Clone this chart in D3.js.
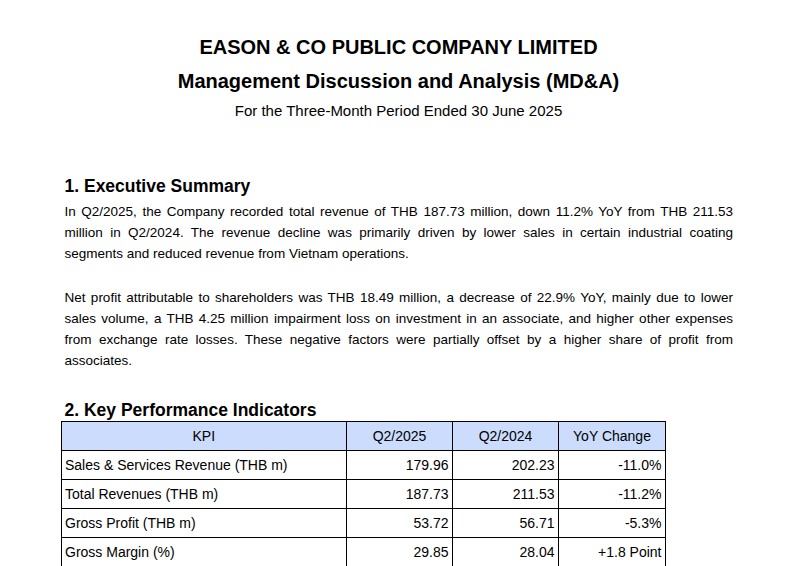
<!DOCTYPE html>
<html>
<head>
<meta charset="utf-8">
<script src="https://cdn.jsdelivr.net/npm/d3@7"></script>
<style>
	body { margin: 0; background: #fff; }
	text { font-family: "Liberation Sans", Arial, sans-serif; fill: #000; }
</style>
</head>
<body>
<div id="page"></div>
<script>
var titleLines = ["EASON & CO PUBLIC COMPANY LIMITED", "Management Discussion and Analysis (MD&A)"];
var subtitle = "For the Three-Month Period Ended 30 June 2025";
var headings = ["1. Executive Summary", "2. Key Performance Indicators"];

// lines broken as in the source page
var summaryPara1 = [
	"In Q2/2025, the Company recorded total revenue of THB 187.73 million, down 11.2% YoY from THB 211.53",
	"million in Q2/2024. The revenue decline was primarily driven by lower sales in certain industrial coating",
	"segments and reduced revenue from Vietnam operations."
];
var summaryPara2 = [
	"Net profit attributable to shareholders was THB 18.49 million, a decrease of 22.9% YoY, mainly due to lower",
	"sales volume, a THB 4.25 million impairment loss on investment in an associate, and higher other expenses",
	"from exchange rate losses. These negative factors were partially offset by a higher share of profit from",
	"associates."
];

var kpiHeaders = ["KPI", "Q2/2025", "Q2/2024", "YoY Change"];
var kpiNames = ["Sales & Services Revenue (THB m)", "Total Revenues (THB m)", "Gross Profit (THB m)", "Gross Margin (%)"];
var q2_2025 = [179.96, 187.73, 53.72, 29.85];
var q2_2024 = [202.23, 211.53, 56.71, 28.04];
var yoyChange = ["-11.0%", "-11.2%", "-5.3%", "+1.8 Point"];

////////////////////////////////////////////////////////////
////////////////////// Create SVG //////////////////////////
////////////////////////////////////////////////////////////

var width = 801, height = 566,
	left = 64.5, right = 733;

var svg = d3.select("#page").append("svg")
	.attr("width", width)
	.attr("height", height);

svg.append("rect").attr("width", width).attr("height", height).attr("fill", "#fff");

////////////////////////////////////////////////////////////
////////////////////// Titles //////////////////////////////
////////////////////////////////////////////////////////////

svg.selectAll("text.title")
	.data(titleLines)
	.enter().append("text")
	.attr("class", "title")
	.attr("x", 398.5)
	.attr("y", function(d, i) { return 54 + i * 34.3; })
	.attr("text-anchor", "middle")
	.style("font-size", "20px")
	.style("font-weight", "bold")
	.text(function(d) { return d; });

svg.append("text")
	.attr("x", 398.5)
	.attr("y", 116)
	.attr("text-anchor", "middle")
	.style("font-size", "15px")
	.text(subtitle);

svg.selectAll("text.heading")
	.data(headings)
	.enter().append("text")
	.attr("class", "heading")
	.attr("x", left)
	.attr("y", function(d, i) { return i ? 416 : 192; })
	.style("font-size", "17.5px")
	.style("font-weight", "bold")
	.text(function(d) { return d; });

////////////////////////////////////////////////////////////
////////////////// Justified paragraphs ////////////////////
////////////////////////////////////////////////////////////

function drawParagraph(lines, y0) {
	var t = svg.selectAll(null)
		.data(lines)
		.enter().append("text")
		.attr("x", left)
		.attr("y", function(d, i) { return y0 + i * 21; })
		.style("font-size", "13.5px")
		.text(function(d) { return d; });

	//stretch the word gaps on every line but the last
	t.each(function(d, i) {
		if (i === lines.length - 1) return;
		var gaps = d.split(" ").length - 1,
			extra = (right - left) - this.getComputedTextLength();
		d3.select(this).style("word-spacing", (extra / gaps) + "px");
	});
}

drawParagraph(summaryPara1, 215.5);
drawParagraph(summaryPara2, 301.5);

////////////////////////////////////////////////////////////
////////////////////// KPI table ///////////////////////////
////////////////////////////////////////////////////////////

var colEdges = [61, 346.5, 452.5, 558.5, 665.5];
var pad = 4;

var y = d3.scaleBand()
	.domain(d3.range(kpiNames.length + 1))
	.range([421, 566]);

var fmt = d3.format(".2f");

var rows = kpiNames.map(function(name, i) {
	return [name, fmt(q2_2025[i]), fmt(q2_2024[i]), yoyChange[i]];
});

var table = svg.append("g").attr("class", "kpi");

table.append("rect")
	.attr("x", colEdges[0])
	.attr("y", y(0))
	.attr("width", colEdges[4] - colEdges[0])
	.attr("height", y.bandwidth())
	.attr("fill", "#cbdcfd");

table.selectAll("text.head")
	.data(kpiHeaders)
	.enter().append("text")
	.attr("class", "head")
	.attr("x", function(d, i) { return (colEdges[i] + colEdges[i + 1]) / 2; })
	.attr("y", y(0) + y.bandwidth() / 2 + 5)
	.attr("text-anchor", "middle")
	.style("font-size", "14px")
	.text(function(d) { return d; });

var rowG = table.selectAll("g.row")
	.data(rows)
	.enter().append("g")
	.attr("class", "row")
	.attr("transform", function(d, i) { return "translate(0," + y(i + 1) + ")"; });

rowG.selectAll("text")
	.data(function(d) { return d; })
	.enter().append("text")
	.attr("x", function(d, j) { return j === 0 ? colEdges[0] + pad : colEdges[j + 1] - pad; })
	.attr("y", y.bandwidth() / 2 + 5)
	.attr("text-anchor", function(d, j) { return j === 0 ? "start" : "end"; })
	.style("font-size", "14px")
	.text(function(d) { return d; });

//grid lines
table.selectAll("line.h")
	.data(d3.range(kpiNames.length + 2))
	.enter().append("line")
	.attr("class", "h")
	.attr("x1", colEdges[0])
	.attr("x2", colEdges[4] + 0.5)
	.attr("y1", function(d) { return 421.5 + d * y.step(); })
	.attr("y2", function(d) { return 421.5 + d * y.step(); })
	.attr("stroke", "#000")
	.attr("stroke-width", 1);

table.selectAll("line.v")
	.data(colEdges)
	.enter().append("line")
	.attr("class", "v")
	.attr("x1", function(d, i) { return i ? d : d + 0.5; })
	.attr("x2", function(d, i) { return i ? d : d + 0.5; })
	.attr("y1", 421)
	.attr("y2", 566)
	.attr("stroke", "#000")
	.attr("stroke-width", 1);
</script>
</body>
</html>
